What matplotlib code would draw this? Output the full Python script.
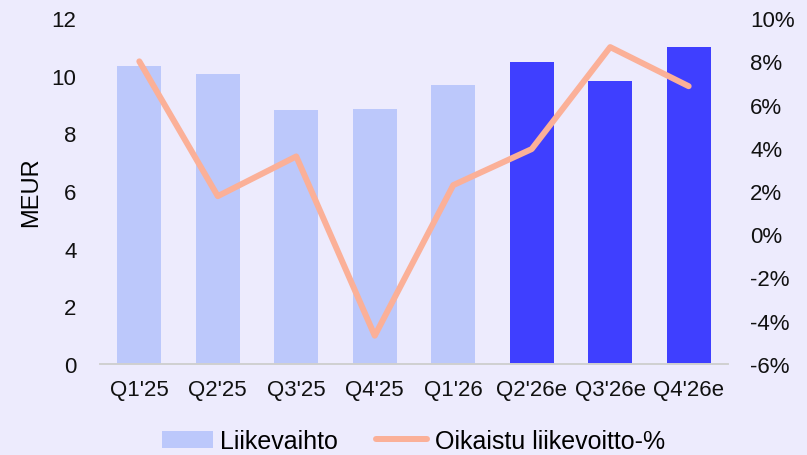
import matplotlib

matplotlib.use("Agg")
import matplotlib.pyplot as plt  # noqa: E402
from matplotlib.patches import Patch  # noqa: E402
from matplotlib.lines import Line2D  # noqa: E402

quarters = ["Q1'25", "Q2'25", "Q3'25", "Q4'25", "Q1'26", "Q2'26e", "Q3'26e", "Q4'26e"]
revenue = [10.34, 10.06, 8.81, 8.85, 9.68, 10.47, 9.82, 11.0]
adj_ebit_pct = [8.0, 1.76, 3.6, -4.7, 2.27, 3.94, 8.66, 6.85]
is_estimate = [False, False, False, False, False, True, True, True]

bg = "#EDEBFD"
light = "#BCC8FB"
dark = "#3F3FFF"
salmon = "#FBB098"

plt.rcParams["font.family"] = ["Liberation Sans", "DejaVu Sans"]

fig = plt.figure(figsize=(8.07, 4.56), dpi=100, facecolor=bg)
ax = fig.add_axes([0.124, 0.2, 0.778, 0.758])
ax.set_facecolor(bg)

x = range(len(quarters))
colors = [dark if e else light for e in is_estimate]
ax.bar(x, revenue, width=0.56, color=colors, zorder=2)
ax.set_xlim(-0.5, len(quarters) - 0.5)
ax.set_ylim(0, 12)
ax.set_yticks(range(0, 13, 2))
ax.set_xticks(list(x))
ax.set_xticklabels(quarters)
ax.set_ylabel("MEUR", fontsize=17, labelpad=7)

ax2 = ax.twinx()
ax2.plot(x, adj_ebit_pct, color=salmon, linewidth=4.3, solid_capstyle="round",
         solid_joinstyle="round", zorder=3)
ax2.set_ylim(-6, 10)
ax2.set_yticks(range(-6, 11, 2))
ax2.set_yticklabels([f"{v}%" for v in range(-6, 11, 2)])

for a in (ax, ax2):
    for side in ("top", "left", "right"):
        a.spines[side].set_visible(False)
    a.spines["bottom"].set_color("#D0D0D0")
    a.spines["bottom"].set_linewidth(1.2)
    a.tick_params(length=0, labelsize=16, colors="#111111")
ax.tick_params(axis="x", pad=11)
ax.tick_params(axis="y", pad=17)
ax2.tick_params(axis="y", pad=16)

handles = [Patch(facecolor=light, edgecolor="none"),
           Line2D([0], [0], color=salmon, linewidth=4.3, solid_capstyle="round")]
fig.legend(handles, ["Liikevaihto", "Oikaistu liikevoitto-%"], loc="lower center",
           bbox_to_anchor=(0.512, -0.045), ncol=2, frameon=False, fontsize=18,
           handlelength=2.05, handleheight=0.65, handletextpad=0.3, columnspacing=1.5)

fig.savefig("out.png", dpi=100, facecolor=bg)
